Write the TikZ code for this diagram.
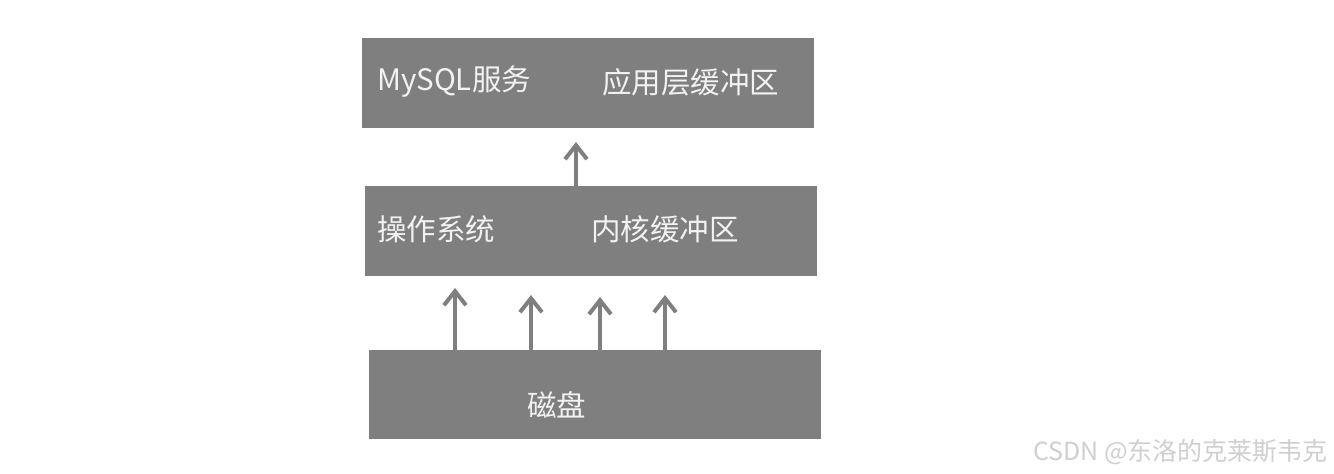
\documentclass[tikz,border=0pt]{standalone}
\usepackage{fontspec}
\setmainfont{Noto Sans CJK SC}
\usepackage{xcolor}
\usetikzlibrary{arrows.meta, positioning}

\definecolor{boxgray}{HTML}{7F7F7F}
\definecolor{textwhite}{HTML}{F2F2F2}
\definecolor{markgray}{HTML}{CFCFCF}

\begin{document}
\begin{tikzpicture}[x=1pt, y=-1pt,
					layer/.style={rectangle, fill=boxgray, minimum width=452pt, minimum height=90pt, inner sep=0pt},
					label/.style={anchor=west, inner sep=0pt, text=textwhite, font=\fontsize{29.5}{34}\selectfont},
					arrow/.style={-{Straight Barb[length=14pt, width=22pt]}, draw=boxgray, line width=4pt, line cap=round, line join=round}
				]
					\useasboundingbox (0,0) rectangle (1334,474);
					
					% Nodes
					\node[layer] (mysql) at (588,83) {};
					\node[layer] (os) at (591,231) {};
					\node[layer, minimum height=89pt] (disk) at (595,394.5) {};
					
					\node[label] (svc) at (377,82) {MySQL服务};
					\node[label] (appbuf) at (602,82) {应用层缓冲区};
					\node[label] (sys) at (377,229) {操作系统};
					\node[label] (kbuf) at (591,229) {内核缓冲区};
					\node[label] (dsk) at (527,405) {磁盘};
					
					\node[anchor=east, inner sep=0pt, text=markgray, font=\fontsize{25}{28}\selectfont] (mark) at (1328,452) {CSDN @东洛的克莱斯韦克};
					
					% Arrows
					\coordinate (t0) at (576,142);
					\coordinate (t1) at (455,288);
					\coordinate (t2) at (531,295);
					\coordinate (t3) at (600,297);
					\coordinate (t4) at (665,295);
					\draw[arrow] (os.north -| t0) -- (t0);
					\draw[arrow] (disk.north -| t1) -- (t1);
					\draw[arrow] (disk.north -| t2) -- (t2);
					\draw[arrow] (disk.north -| t3) -- (t3);
					\draw[arrow] (disk.north -| t4) -- (t4);
				\end{tikzpicture}
\end{document}
